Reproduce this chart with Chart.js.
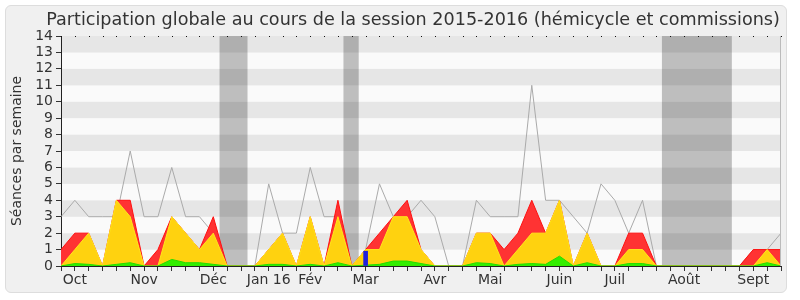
<!DOCTYPE html>
<html lang="fr">
<head>
<meta charset="UTF-8">
<title>Participation globale 2015-2016</title>
<script src="https://cdn.jsdelivr.net/npm/chart.js"></script>
<style>
    body { margin: 0; background: #ffffff; }
    .cadre {
        position: absolute; left: 5px; top: 5px; width: 780px; height: 286px;
        background: #f0f0f0; border: 1px solid #dddddd; border-radius: 6px;
    }
    .graphique { position: absolute; left: 0; top: 0; width: 800px; height: 300px; }
</style>
</head>
<body>
<div class="cadre"></div>
<div class="graphique"><canvas id="participation" width="800" height="300"></canvas></div>
<script>
    // une valeur par semaine, de fin septembre 2015 à septembre 2016
    const seancesTotal = [3,4,3,3,3,7,3,3,6,3,3,2,0, 0,0,5,2,2,6,3,3,0,1,5,3,3,4,3, 0,0,4,3,3,3,11,4,4,3,2,5,4,2,4, 0,0,0,0,0,0,0, 1,1,2];
    const presenceRouge = [1,2,2,0,4,4,0,1,3,2,1,3,0, 0,0,1,2,0,3,0,4,0,1,2,3,4,1,0, 0,0,2,2,1,2,4,2,4,0,2,0,0,2,2, 0,0,0,0,0,0,0, 1,1,1];
    const presenceJaune = [0,1,2,0,4,3,0,0,3,2,1,2,0, 0,0,1,2,0,3,0,3,0,1,1,3,3,1,0, 0,0,2,2,0,1,2,2,4,0,2,0,0,1,1, 0,0,0,0,0,0,0, 0,1,0];
    const presenceVerte = [0,0.15,0.1,0,0.1,0.2,0,0,0.4,0.2,0.2,0.1,0, 0,0,0.1,0.1,0,0.1,0,0.2,0,0.05,0.1,0.3,0.3,0.15,0, 0,0,0.2,0.15,0,0.1,0.15,0.1,0.6,0,0.2,0,0,0.15,0.15, 0,0,0,0,0,0,0, 0,0.2,0];
    const questionsSemaine = [22];
    const questionsValeur = [0.9];

    const moisLabels = ['Oct', 'Nov', 'Déc', 'Jan 16', 'Fév', 'Mar', 'Avr', 'Mai', 'Juin', 'Juil', 'Août', 'Sept'];
    const moisSemaine = [1, 6, 11, 15, 18, 22, 27, 31, 36, 40, 45, 50];

    // vacances parlementaires (en semaines)
    const vacancesDebut = [11.45, 20.4, 43.4];
    const vacancesFin = [13.47, 21.5, 48.45];

    const semaines = seancesTotal.map((v, i) => i);
    const points = (valeurs) => valeurs.map((v, i) => ({ x: semaines[i], y: v }));

    Chart.defaults.font.family = '"DejaVu Sans"';
    Chart.defaults.color = '#333';

    const fond = {
        id: 'fond',
        beforeDraw(chart) {
            const { ctx, chartArea: a, scales } = chart;
            ctx.save();
            for (let k = 0; k < 14; k++) {
                const y1 = scales.y.getPixelForValue(k + 1);
                const y0 = scales.y.getPixelForValue(k);
                ctx.fillStyle = k % 2 ? '#e6e6e6' : '#fafafa';
                ctx.fillRect(a.left, y1, a.right - a.left, y0 - y1);
            }
            ctx.fillStyle = 'rgba(0,0,0,0.24)';
            for (let i = 0; i < vacancesDebut.length; i++) {
                const x0 = scales.x.getPixelForValue(vacancesDebut[i]);
                const x1 = scales.x.getPixelForValue(vacancesFin[i]);
                ctx.fillRect(x0, a.top, x1 - x0, a.bottom - a.top);
            }
            ctx.restore();
        },
        afterDraw(chart) {
            const { ctx, chartArea: a, scales } = chart;
            ctx.save();
            ctx.fillStyle = '#111';
            semaines.forEach(s => {
                ctx.fillRect(Math.round(scales.x.getPixelForValue(s)), a.top, 1, 1);
            });
            ctx.fillStyle = '#bbbbbb';
            ctx.fillRect(Math.round(a.right) - 1, a.top, 1, a.bottom - a.top);
            ctx.fillStyle = '#333';
            ctx.font = '17.6px "DejaVu Sans"';
            ctx.textAlign = 'center';
            ctx.fillText('Participation globale au cours de la session 2015-2016 (hémicycle et commissions)', 413, 25);
            ctx.restore();
        }
    };

    const ligne = (valeurs, fondCouleur, bord, ordre, remplir) => ({
        type: 'line',
        data: points(valeurs),
        backgroundColor: fondCouleur,
        borderColor: bord,
        borderWidth: 1,
        fill: remplir ? 'origin' : false,
        pointRadius: 0,
        tension: 0,
        order: ordre
    });

    new Chart(document.getElementById('participation'), {
        data: {
            datasets: [
                ligne(seancesTotal, 'transparent', '#aaaaaa', 4, false),
                ligne(presenceRouge, '#ff3333', '#ff1010', 3, true),
                ligne(presenceJaune, '#ffd20f', '#ffe81a', 2, true),
                ligne(presenceVerte, '#33ee00', '#22dd00', 1, true),
                {
                    type: 'bar',
                    data: questionsSemaine.map((s, i) => ({ x: s, y: questionsValeur[i] })),
                    backgroundColor: '#2020dd',
                    barThickness: 4,
                    order: 0
                }
            ]
        },
        options: {
            responsive: false,
            animation: false,
            devicePixelRatio: 1,
            layout: { padding: { top: 36, right: 19, left: 0, bottom: 0 } },
            plugins: { legend: { display: false }, tooltip: { enabled: false } },
            scales: {
                x: {
                    type: 'linear',
                    min: 0,
                    max: 52,
                    offset: false,
                    afterBuildTicks: (s) => { s.ticks = semaines.map(v => ({ value: v })); },
                    afterFit: (s) => { s.height = 34; },
                    ticks: {
                        autoSkip: false,
                        maxRotation: 0,
                        padding: 1,
                        font: { size: 14 },
                        color: '#333',
                        callback: (v) => {
                            const k = moisSemaine.indexOf(v);
                            return k >= 0 ? moisLabels[k] : '';
                        }
                    },
                    grid: { drawOnChartArea: false, offset: false, tickLength: 5, color: '#333' },
                    border: { color: '#222' }
                },
                y: {
                    min: 0,
                    max: 14,
                    afterFit: (s) => { s.width = 61; },
                    ticks: { stepSize: 1, autoSkip: false, padding: 3, font: { size: 14 }, color: '#333' },
                    grid: { drawOnChartArea: false, tickLength: 5, color: '#333' },
                    border: { color: '#222' },
                    title: {
                        display: true,
                        text: 'Séances par semaine',
                        font: { size: 14 },
                        color: '#333',
                        padding: { top: 9, bottom: 0 }
                    }
                }
            }
        },
        plugins: [fond]
    });
</script>
</body>
</html>
